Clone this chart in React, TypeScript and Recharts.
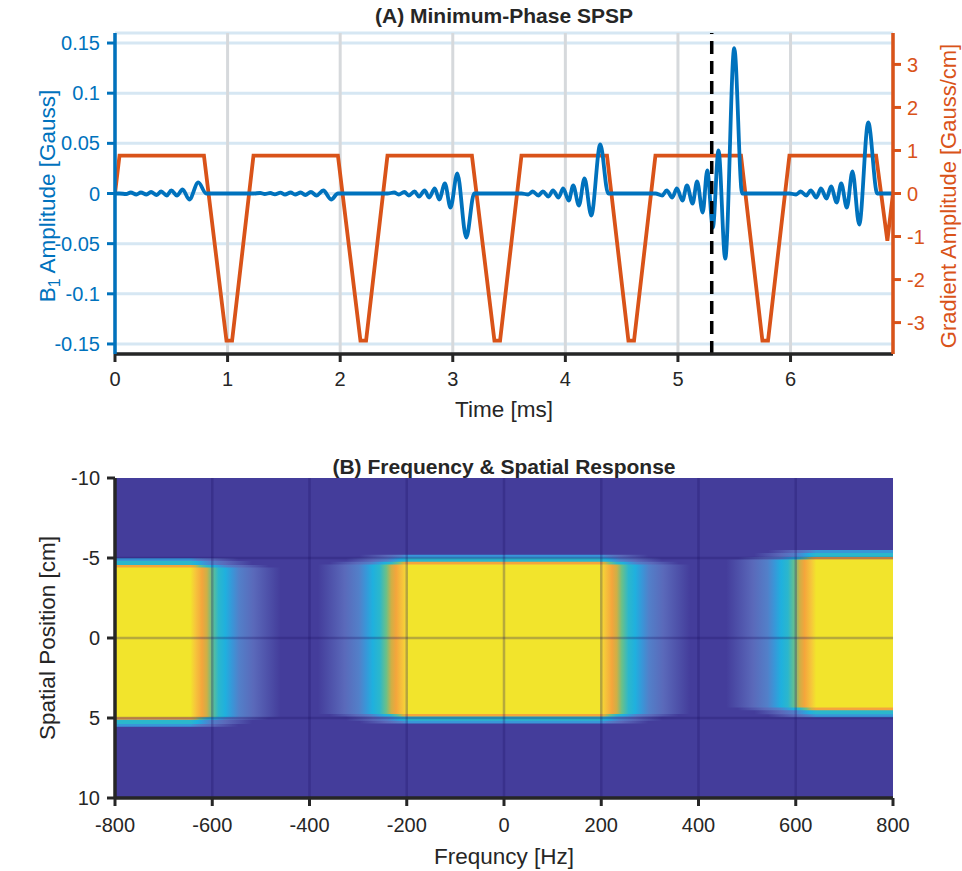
import React from "react";
import {
  ComposedChart,
  Line,
  XAxis,
  YAxis,
  CartesianGrid,
  ReferenceLine,
  ReferenceArea,
} from "recharts";

const FONT = '"Liberation Sans", Arial, Helvetica, sans-serif';
const BLUE = "#0072BD";
const ORANGE = "#D95319";
const INK = "#262626";

// (A) gradient waveform [Gauss/cm] vs time [ms]
const gradTime = [
  0, 0.04, 0.79, 0.99, 1.04, 1.23, 1.98, 2.18, 2.23, 2.42, 3.17, 3.37, 3.42, 3.61, 4.37, 4.56,
  4.61, 4.8, 5.56, 5.75, 5.8, 5.99, 6.76, 6.86, 6.91,
];
const gradAmp = [
  0, 0.88, 0.88, -3.42, -3.42, 0.88, 0.88, -3.42, -3.42, 0.88, 0.88, -3.42, -3.42, 0.88, 0.88, -3.42,
  -3.42, 0.88, 0.88, -3.42, -3.42, 0.88, 0.88, -1.1, 0,
];

// (A) B1 sub-pulses [Gauss] vs time [ms]
const rfTime = [
  0, 0.04, 0.1, 0.14, 0.19, 0.23, 0.28, 0.32, 0.37, 0.41, 0.46, 0.5, 0.55, 0.6, 0.66, 0.74, 0.81,
  1.23, 1.29, 1.33, 1.38, 1.42, 1.47, 1.51, 1.56, 1.6, 1.65, 1.69, 1.74, 1.79, 1.85, 1.92, 1.98,
  2.42, 2.48, 2.52, 2.57, 2.61, 2.66, 2.7, 2.75, 2.79, 2.84, 2.88, 2.93, 2.98, 3.04, 3.12, 3.19,
  3.61, 3.67, 3.71, 3.76, 3.8, 3.85, 3.89, 3.94, 3.98, 4.03, 4.07, 4.12, 4.17, 4.23, 4.31, 4.38,
  4.8, 4.86, 4.9, 4.95, 4.99, 5.04, 5.08, 5.13, 5.17, 5.22, 5.26, 5.31, 5.36, 5.42, 5.5, 5.57,
  5.99, 6.05, 6.09, 6.14, 6.18, 6.23, 6.27, 6.32, 6.36, 6.41, 6.45, 6.5, 6.55, 6.61, 6.69, 6.77,
  6.91,
];
const rfAmp = [
  0, 0, -0.0005, 0.001, -0.001, 0.001, -0.001, 0.0015, -0.0015, 0.002, -0.002, 0.003, -0.002, 0.004, -0.006, 0.011, 0,
  0, 0.0005, -0.0005, 0.0005, -0.0008, 0.0008, -0.001, 0.001, -0.001, 0.001, -0.0015, 0.0015, -0.002, 0.003, -0.006, 0,
  0, 0.001, -0.001, 0.0015, -0.002, 0.002, -0.003, 0.003, -0.004, 0.005, -0.006, 0.01, -0.014, 0.02, -0.044, 0,
  0, -0.001, 0.002, -0.002, 0.002, -0.003, 0.003, -0.004, 0.005, -0.007, 0.008, -0.012, 0.015, -0.022, 0.049, 0,
  0, -0.002, 0.003, -0.004, 0.005, -0.007, 0.008, -0.01, 0.012, -0.019, 0.023, -0.034, 0.043, -0.065, 0.145, 0,
  0, -0.001, 0.002, -0.002, 0.003, -0.004, 0.005, -0.005, 0.007, -0.009, 0.01, -0.014, 0.022, -0.031, 0.071, 0,
  0,
];

const timeTicks = [0, 1, 2, 3, 4, 5, 6];
const b1Ticks = [-0.15, -0.1, -0.05, 0, 0.05, 0.1, 0.15];
const gradTicks = [-3, -2, -1, 0, 1, 2, 3];
const markerTime = 5.3;

// (B) passbands of the frequency/spatial response
const freqTicks = [-800, -600, -400, -200, 0, 200, 400, 600, 800];
const posTicks = [-10, -5, 0, 5, 10];
const bandFreqLo = [-1000, -198, 642];
const bandFreqHi = [-645, 198, 1000];
const bandTop = [-4.4, -4.6, -4.9];
const bandBottom = [4.95, 4.75, 4.35];

const gradData = gradTime.map((t, i) => ({ t, g: gradAmp[i] }));
const rfData = rfTime.map((t, i) => ({ t, b1: rfAmp[i] }));

// parula-like edge profile: distance (Hz) outward from the passband edge -> colour
const EDGE: [number, string][] = [
  [0, "#f2e42c"],
  [10, "#f6c63b"],
  [24, "#f4a53c"],
  [34, "#cdb046"],
  [44, "#6cc087"],
  [58, "#2bb7cc"],
  [72, "#1fb0de"],
  [86, "#3996d8"],
  [100, "#5280c9"],
  [130, "#5a69ba"],
  [185, "#443d9b"],
];
const LAYERS = [
  { d: 86, pad: 0.6 },
  { d: 58, pad: 0.42 },
  { d: 24, pad: 0.16 },
  { d: 0, pad: 0 },
];
const FADE = 185;
const HEAT_BG = "#443d9b";

function edgeStops(lo: number, hi: number, d: number) {
  const reach = FADE - d;
  const x1 = lo - reach;
  const w = hi + reach - x1;
  const edge = EDGE.filter(([dist]) => dist >= d);
  const left = [...edge].reverse().map(([dist, c]) => ({ off: (lo - (dist - d) - x1) / w, c }));
  const right = edge.map(([dist, c]) => ({ off: (hi + (dist - d) - x1) / w, c }));
  return [...left, ...right];
}

const tickFont = { fontFamily: FONT, fontSize: 20 };

function Label({ x, y, text, color = INK, rotate = false, bold = false, size = 22.5 }: any) {
  return (
    <div
      style={{
        position: "absolute",
        left: x,
        top: y,
        transform: `translate(-50%, -50%)${rotate ? " rotate(-90deg)" : ""}`,
        whiteSpace: "nowrap",
        fontFamily: FONT,
        fontSize: size,
        fontWeight: bold ? 700 : 400,
        color,
        lineHeight: 1,
      }}
    >
      {text}
    </div>
  );
}

function PulsePanel() {
  return (
    <ComposedChart width={962} height={430} margin={{ top: 33, right: 29, left: 55, bottom: 36 }}>
      <CartesianGrid yAxisId="left" vertical={false} stroke="#d6e7f3" strokeWidth={3} />
      <CartesianGrid yAxisId="left" horizontal={false} stroke="#d6d9dc" strokeWidth={3} />
      <XAxis
        dataKey="t"
        type="number"
        domain={[0, 6.91]}
        ticks={timeTicks}
        interval={0}
        allowDataOverflow
        axisLine={{ stroke: INK, strokeWidth: 3.5 }}
        tickLine={{ stroke: INK, strokeWidth: 3 }}
        tickSize={8}
        tickMargin={10}
        tick={{ ...tickFont, fill: INK }}
        height={40}
      />
      <YAxis
        yAxisId="left"
        type="number"
        domain={[-0.16, 0.16]}
        ticks={b1Ticks}
        interval={0}
        allowDataOverflow
        axisLine={{ stroke: BLUE, strokeWidth: 3.5 }}
        tickLine={{ stroke: BLUE, strokeWidth: 3 }}
        tickSize={8}
        tickMargin={7}
        tick={{ ...tickFont, fill: BLUE }}
        width={60}
      />
      <YAxis
        yAxisId="right"
        orientation="right"
        type="number"
        domain={[-3.73, 3.73]}
        ticks={gradTicks}
        interval={0}
        allowDataOverflow
        axisLine={{ stroke: ORANGE, strokeWidth: 3.5 }}
        tickLine={{ stroke: ORANGE, strokeWidth: 3 }}
        tickSize={8}
        tickMargin={6}
        tick={{ ...tickFont, fill: ORANGE }}
        width={40}
      />
      <Line
        yAxisId="right"
        data={gradData}
        dataKey="g"
        type="linear"
        stroke={ORANGE}
        strokeWidth={3.8}
        dot={false}
        isAnimationActive={false}
      />
      <Line
        yAxisId="left"
        data={rfData}
        dataKey="b1"
        type="monotone"
        stroke={BLUE}
        strokeWidth={3.8}
        dot={false}
        isAnimationActive={false}
      />
      <ReferenceLine yAxisId="left" x={markerTime} stroke="#000" strokeWidth={3.5} strokeDasharray="13 7" />
    </ComposedChart>
  );
}

function ResponsePanel() {
  return (
    <ComposedChart width={962} height={431} margin={{ top: 38, right: 69, left: 55, bottom: 33 }}>
      <defs>
        {bandFreqLo.map((lo, b) =>
          LAYERS.map((layer, l) => (
            <linearGradient key={`g${b}-${l}`} id={`band${b}-${l}`} x1="0" y1="0" x2="1" y2="0">
              {edgeStops(lo, bandFreqHi[b], layer.d).map((s, k) => (
                <stop key={k} offset={s.off} stopColor={s.c} />
              ))}
            </linearGradient>
          ))
        )}
      </defs>
      <XAxis
        type="number"
        dataKey="f"
        domain={[-800, 800]}
        ticks={freqTicks}
        interval={0}
        allowDataOverflow
        axisLine={{ stroke: INK, strokeWidth: 3.5 }}
        tickLine={{ stroke: INK, strokeWidth: 3 }}
        tickSize={8}
        tickMargin={12}
        tick={{ ...tickFont, fill: INK }}
        height={40}
      />
      <YAxis
        type="number"
        dataKey="z"
        domain={[-10, 10]}
        reversed
        ticks={posTicks}
        interval={0}
        allowDataOverflow
        axisLine={{ stroke: INK, strokeWidth: 3.5 }}
        tickLine={{ stroke: INK, strokeWidth: 3 }}
        tickSize={8}
        tickMargin={7}
        tick={{ ...tickFont, fill: INK }}
        width={60}
      />
      <ReferenceArea x1={-800} x2={800} y1={-10} y2={10} fill={HEAT_BG} fillOpacity={1} stroke="none" />
      {bandFreqLo.map((lo, b) =>
        LAYERS.map((layer, l) => (
          <ReferenceArea
            key={`a${b}-${l}`}
            x1={lo - (FADE - layer.d)}
            x2={bandFreqHi[b] + (FADE - layer.d)}
            y1={bandTop[b] - layer.pad}
            y2={bandBottom[b] + layer.pad}
            fill={`url(#band${b}-${l})`}
            fillOpacity={1}
            stroke="none"
            ifOverflow="hidden"
          />
        ))
      )}
      {freqTicks.slice(1, -1).map((f) => (
        <ReferenceLine key={`vf${f}`} x={f} stroke="rgba(30,18,100,0.28)" strokeWidth={2.5} />
      ))}
      {posTicks.slice(1, -1).map((z) => (
        <ReferenceLine key={`hz${z}`} y={z} stroke="rgba(30,18,100,0.28)" strokeWidth={2.5} />
      ))}
    </ComposedChart>
  );
}

export default function App() {
  return (
    <div style={{ position: "absolute", left: 0, top: 0, width: 962, height: 871, background: "#fff" }}>
      <div style={{ position: "absolute", left: 0, top: 0 }}>
        <PulsePanel />
      </div>
      <div style={{ position: "absolute", left: 0, top: 440 }}>
        <ResponsePanel />
      </div>
      <Label x={504} y={15} text="(A) Minimum-Phase SPSP" bold size={21} />
      <Label
        x={50}
        y={196}
        rotate
        color={BLUE}
        text={
          <span>
            B<sub style={{ fontSize: "0.7em" }}>1</sub> Amplitude [Gauss]
          </span>
        }
      />
      <Label x={949} y={196} rotate color={ORANGE} size={22} text="Gradient Amplitude [Gauss/cm]" />
      <Label x={504} y={410} text="Time [ms]" />
      <Label x={504} y={466} text="(B) Frequency & Spatial Response" bold size={21} />
      <Label x={48} y={638} rotate text="Spatial Position [cm]" />
      <Label x={504} y={857} text="Frequncy [Hz]" />
    </div>
  );
}
